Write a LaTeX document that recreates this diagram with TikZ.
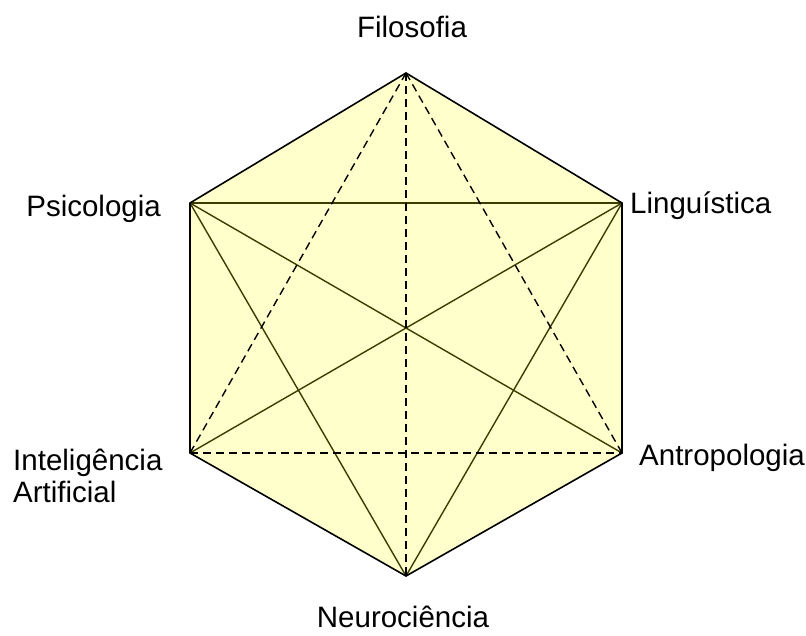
\documentclass[tikz,border=0pt]{standalone}
\usepackage{fontspec}
\setmainfont{Liberation Sans}
\definecolor{hexfill}{RGB}{255,255,204}
\definecolor{inner}{RGB}{60,60,0}
\begin{document}
\begin{tikzpicture}[x=1pt,y=-1pt,
  edge/.style={draw=black,line width=1.6pt,line join=miter},
  solidline/.style={draw=inner,line width=1.4pt},
  dashline/.style={draw=black,line width=1.4pt,dash pattern=on 8pt off 5pt},
  lbl/.style={font=\fontsize{29.5}{32}\selectfont,inner sep=0pt,text=black}]
\useasboundingbox (0,0) rectangle (806,635);
\coordinate (F) at (406,73);
\coordinate (L) at (622,203);
\coordinate (A) at (622,453);
\coordinate (N) at (406,576);
\coordinate (I) at (190,453);
\coordinate (P) at (190,203);
\fill[hexfill] (F) -- (L) -- (A) -- (N) -- (I) -- (P) -- cycle;
% solid inner lines
\draw[solidline] (P) -- (L);
\draw[solidline] (P) -- (A);
\draw[solidline] (P) -- (N);
\draw[solidline] (L) -- (I);
\draw[solidline] (L) -- (N);
% dashed lines
\draw[dashline] (F) -- (N);
\draw[dashline] (F) -- (I);
\draw[dashline] (F) -- (A);
\draw[dashline] (I) -- (A);
% hexagon edges
\draw[edge] (F) -- (L) -- (A) -- (N) -- (I) -- (P) -- cycle;
% labels
\node[lbl,anchor=base] (tF) at (412,37) {Filosofia};
\node[lbl,anchor=base west] (tL) at (630,213) {Linguística};
\node[lbl,anchor=base east] (tP) at (161,216) {Psicologia};
\node[lbl,anchor=base west] (tA) at (639,465) {Antropologia};
\node[lbl,anchor=base] (tN) at (403,627) {Neurociência};
\node[lbl,anchor=base west] (tI) at (13,470) {Inteligência};
\node[lbl,anchor=base west] (tI2) at (13,502) {Artificial};
\end{tikzpicture}
\end{document}
